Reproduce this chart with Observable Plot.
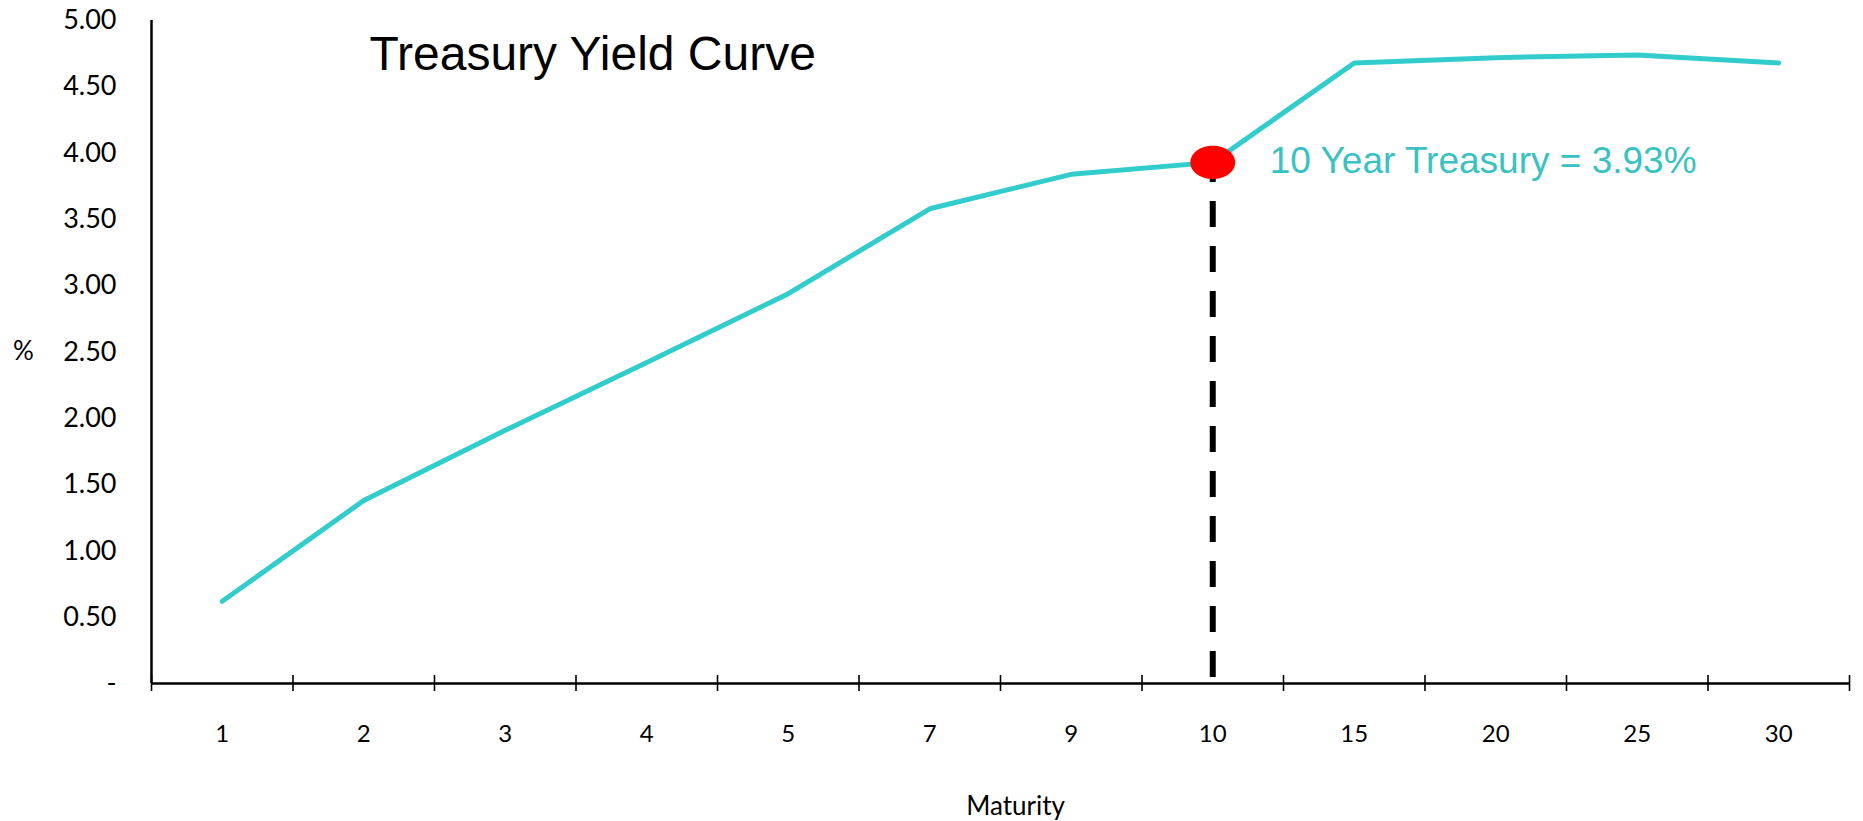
<!DOCTYPE html>
<html>
<head>
<meta charset="utf-8">
<script src="https://cdn.jsdelivr.net/npm/d3@7"></script>
<script src="https://cdn.jsdelivr.net/npm/@observablehq/plot@0.6"></script>
<style>
  html, body { margin: 0; padding: 0; background: #fff; }
  #chart svg { display: block; }
</style>
</head>
<body>
<div id="chart"></div>
<script>
// Treasury yields by maturity (years)
const maturities = ["1", "2", "3", "4", "5", "7", "9", "10", "15", "20", "25", "30"];
const yields = [0.62, 1.38, 1.91, 2.42, 2.94, 3.58, 3.84, 3.93, 4.68, 4.72, 4.74, 4.68];
const yTicks = [0, 0.5, 1, 1.5, 2, 2.5, 3, 3.5, 4, 4.5, 5];
const highlight = "10";
const title = "Treasury Yield Curve";
const xLabel = "Maturity";
const yLabel = "%";

// each maturity occupies one equal-width slot; points sit at slot centres
const rows = maturities.map((m, i) => ({ m, pos: i + 0.5, y: yields[i] }));
const ten = rows.filter(d => d.m === highlight);
const slotEdges = d3.range(0, maturities.length + 1);

const teal = "#33CCCC";
const arial = "'Liberation Sans', Arial, sans-serif";

// a slightly flattened ellipse symbol for the highlighted point
const ellipse = {
  draw(context, size) {
    const r = Math.sqrt(size / Math.PI);
    const rx = r * 1.15, ry = r * 0.85, k = 0.5523;
    context.moveTo(rx, 0);
    context.bezierCurveTo(rx, ry * k, rx * k, ry, 0, ry);
    context.bezierCurveTo(-rx * k, ry, -rx, ry * k, -rx, 0);
    context.bezierCurveTo(-rx, -ry * k, -rx * k, -ry, 0, -ry);
    context.bezierCurveTo(rx * k, -ry, rx, -ry * k, rx, 0);
    context.closePath();
  }
};

const chart = Plot.plot({
  width: 1863,
  height: 821,
  marginLeft: 151,
  marginRight: 14,
  marginTop: 20,
  marginBottom: 138,
  style: { fontFamily: "Lato, sans-serif", color: "black", background: "white", overflow: "visible" },
  x: { domain: [0, maturities.length] },
  y: { domain: [0, 5] },
  marks: [
    // value axis labels
    Plot.axisY({
      ticks: yTicks, tickSize: 0, tickPadding: 35, fontSize: 27, label: null,
      tickFormat: v => v === 0 ? "-" : v.toFixed(2)
    }),
    // slot boundary tick marks crossing the baseline
    Plot.axisX({
      ticks: slotEdges, tickSize: 16, dy: -8, strokeWidth: 1.6,
      tickFormat: () => "", label: null
    }),
    // maturity labels centred in each slot
    Plot.axisX({
      ticks: rows.map(d => d.pos), tickSize: 0, tickPadding: 41, fontSize: 24, label: null,
      tickFormat: v => maturities[Math.floor(v)]
    }),
    Plot.ruleX([0], { stroke: "black", strokeWidth: 2.5 }),
    Plot.ruleY([0], { stroke: "black", strokeWidth: 2.5 }),
    // dashed drop line from the 10-year point
    Plot.ruleX(ten, {
      x: "pos", y1: 0, y2: "y", stroke: "black", strokeWidth: 6,
      strokeDasharray: "26,19", strokeDashoffset: 39
    }),
    Plot.line(rows, { x: "pos", y: "y", stroke: teal, strokeWidth: 5 }),
    Plot.dot(ten, { x: "pos", y: "y", r: 19.5, symbol: ellipse, fill: "#ff0000", stroke: "none" }),
    Plot.text(ten, {
      x: "pos", y: "y", dx: 57, dy: -1, textAnchor: "start",
      text: d => `${d.m} Year Treasury = ${d.y.toFixed(2)}%`,
      fill: "#38c2c2", fontSize: 37, fontFamily: arial
    }),
    Plot.text([title], {
      text: d => d, frameAnchor: "top-left", dx: 218, dy: 34,
      textAnchor: "start", lineAnchor: "middle", fontSize: 48, fontFamily: arial, fill: "black"
    }),
    Plot.text([yLabel], {
      text: d => d, frameAnchor: "left", dx: -128,
      textAnchor: "middle", fontSize: 26, fill: "black"
    }),
    Plot.text([xLabel], {
      text: d => d, frameAnchor: "bottom", dx: 15, dy: 123,
      textAnchor: "middle", lineAnchor: "middle", fontSize: 26, fill: "black"
    })
  ]
});

document.getElementById("chart").append(chart);
</script>
</body>
</html>
